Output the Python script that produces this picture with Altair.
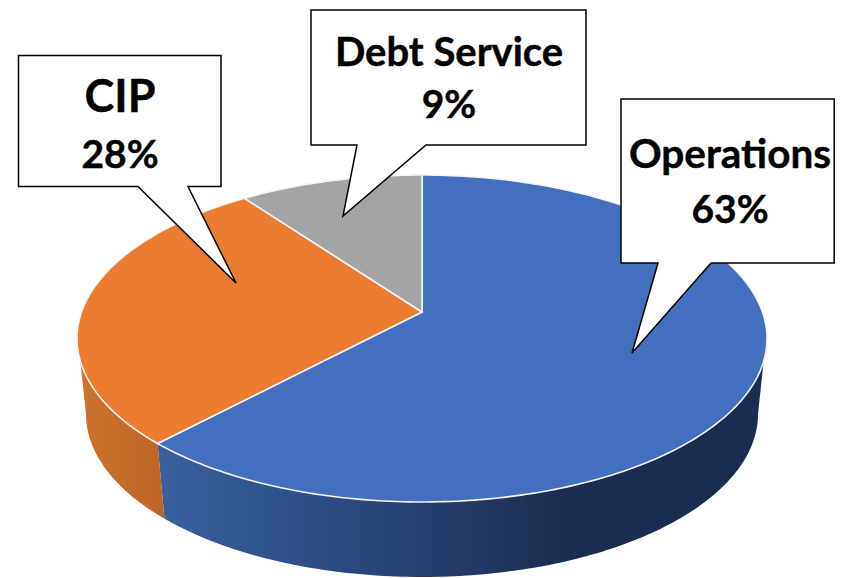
import math
import altair as alt
import pandas as pd

# ---- values ----
categories = ["Operations", "CIP", "Debt Service"]
percent_labels = ["63%", "28%", "9%"]
shares = [63.9, 27.5, 8.6]          # sweep seen on the drawn ellipse, clockwise from 12 o'clock
top_colors = ["#4270BF", "#EB7C31", "#A4A4A4"]

# ---- layout of the tilted pie, in picture pixels ----
APEX = (422, 312)
TOP = dict(cx=422, cy=338.5, rx=345, ry=163.5)
BOTTOM = dict(cx=422, cy=414, rx=336, ry=163)
RIGHT_SILHOUETTE, LEFT_SILHOUETTE = 98, 262   # degrees where the side wall meets the top rim


def rim(e, a0, a1, step=1.0):
    n = max(2, int(abs(a1 - a0) / step) + 1)
    pts = []
    for i in range(n + 1):
        t = math.radians(a0 + (a1 - a0) * i / n)
        pts.append([e["cx"] + e["rx"] * math.sin(t), e["cy"] - e["ry"] * math.cos(t)])
    return pts


def feature(ring):
    ring = [list(p) for p in ring]
    if ring[0] != ring[-1]:
        ring.append(ring[0])
    return {"type": "Feature", "properties": {},
            "geometry": {"type": "Polygon", "coordinates": [ring]}}


edges = [0]
for s in shares:
    edges.append(edges[-1] + s * 3.6)


def wedge(i):
    return feature([list(APEX)] + rim(TOP, edges[i], edges[i + 1]))


def wall(a0, a1, b0, b1):
    return feature(rim(TOP, a0, a1) + rim(BOTTOM, b1, b0))


blue_wall = wall(RIGHT_SILHOUETTE, edges[1], 90, edges[1])
orange_wall = wall(edges[1], LEFT_SILHOUETTE, edges[1], 270)

blue_grad = alt.Gradient(
    gradient="linear", x1=0, x2=1, y1=0, y2=0,
    stops=[alt.GradientStop(color="#38609F", offset=0),
           alt.GradientStop(color="#2D4F88", offset=0.25),
           alt.GradientStop(color="#233A68", offset=0.5),
           alt.GradientStop(color="#1A2C4F", offset=0.68),
           alt.GradientStop(color="#1A2C4F", offset=1)])
orange_grad = alt.Gradient(
    gradient="linear", x1=0, x2=1, y1=0, y2=0,
    stops=[alt.GradientStop(color="#CB722C", offset=0),
           alt.GradientStop(color="#BF6526", offset=1)])

callouts = [
    # Operations (right edge kept just inside the drawable page width)
    [[621, 99], [834.2, 99], [834.2, 263], [711, 263], [632, 353], [658, 263], [621, 263]],
    # CIP
    [[18.5, 55.5], [221, 55.5], [221, 186.5], [188, 186.5], [236, 283], [138, 186.5], [18.5, 186.5]],
    # Debt Service
    [[311, 10], [586, 10], [586, 145], [426, 145], [343, 216], [357, 145], [311, 145]],
]

text_rows = pd.DataFrame({
    "label": [categories[0], percent_labels[0], categories[1], percent_labels[1],
              categories[2], percent_labels[2]],
    "px": [730, 730, 120, 120, 449, 449],
    "py": [168, 223, 112, 168, 66, 118],
    "fs": [40.5, 39, 45, 39, 40, 39],
})


def shape(feat, **kw):
    return alt.Chart(alt.Data(values=[feat])).mark_geoshape(**kw)


layers = [
    shape(blue_wall, fill=blue_grad, strokeWidth=0),
    shape(orange_wall, fill=orange_grad, strokeWidth=0),
]
for i in range(3):
    layers.append(shape(wedge(i), fill=top_colors[i], stroke="#F4F4F4", strokeWidth=1.6))
for c in callouts:
    layers.append(shape(feature(c), fill="white", stroke="black", strokeWidth=1.5,
                        strokeJoin="miter"))
layers.append(
    alt.Chart(text_rows).mark_text(font="Lato", fontWeight="bold", color="black",
                                   stroke="black", strokeWidth=0.4,
                                   align="center", baseline="alphabetic").encode(
        longitude="px:Q", latitude="py:Q", text="label:N",
        size=alt.Size("fs:Q", scale=None, legend=None))
)

chart = (
    alt.layer(*layers)
    .project(type="identity", scale=1, translate=[-8, -8])
    .properties(width=827, height=570, padding=0, autosize=alt.AutoSizeParams(type="none"))
    .configure_view(stroke=None)
)

chart.save("out.html", embed_options={"renderer": "svg", "actions": False})
